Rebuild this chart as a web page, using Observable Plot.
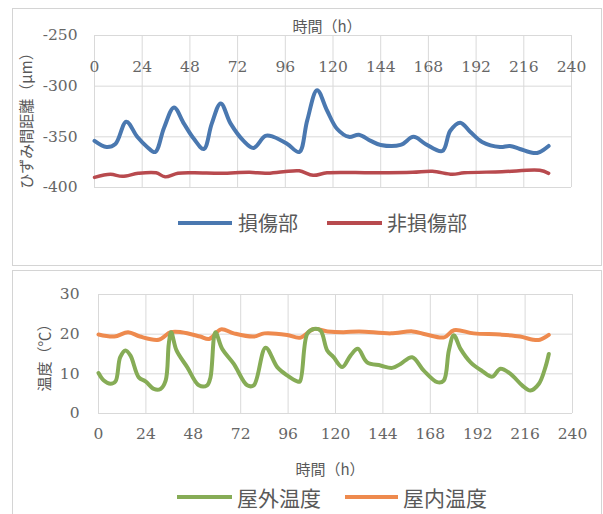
<!DOCTYPE html>
<html><head><meta charset="utf-8">
<script src="https://cdn.jsdelivr.net/npm/d3@7"></script>
<script src="https://cdn.jsdelivr.net/npm/@observablehq/plot@0.6"></script>
<style>
html,body{margin:0;padding:0;background:#fff;}
#wrap{position:relative;width:603px;height:514px;overflow:hidden;background:#fff;}
.panel{position:absolute;border:1.5px solid #d4d4d4;box-sizing:border-box;}
.abs{position:absolute;white-space:nowrap;color:#595959;font-family:"Noto Sans CJK JP","Noto Sans",sans-serif;line-height:1;}
.c{transform:translate(-50%,-50%);}
.r{transform:translate(-50%,-50%) rotate(-90deg);}
.leg{position:absolute;height:4px;}
.plot{position:absolute;left:0;}
</style></head>
<body><div id="wrap"></div>
<script>
// ---- data ----
const xTicks = [0, 24, 48, 72, 96, 120, 144, 168, 192, 216, 240];
const strainTicks = [-400, -350, -300, -250];
const tempTicks = [0, 10, 20, 30];

const damagedH = [0, 6, 10.5, 16, 21.5, 26.5, 30.5, 35, 40, 45, 50, 55, 59, 63.5, 68.5, 75, 80, 86, 90, 97, 103, 107, 112, 117, 122, 128, 133, 139, 144, 154, 160.5, 166.5, 175, 179, 184, 189, 195, 204, 209, 214, 221, 224, 228.5];
const damagedV = [-354, -360, -357, -335, -350, -360, -365, -341, -321, -337, -352, -362, -337, -317, -337, -354, -361, -349, -350, -357, -365, -334, -304, -324, -342, -350, -348, -354, -358, -358, -350, -357, -364, -344, -336, -345, -355, -360, -359, -362, -366, -365, -359];

const intactH = [0, 8, 14, 22, 31, 35.5, 42, 50, 64, 78, 86, 95, 103, 110, 117, 140, 160, 170, 180, 186, 205, 224, 228.5];
const intactV = [-390, -387, -389, -386, -385.5, -389.5, -386, -385.5, -386, -385, -386, -384.5, -383.5, -388, -385.5, -385.5, -385, -384, -387, -385.5, -384.5, -383, -386];

const outdoorH = [0, 2.7, 6, 8.6, 11, 13.7, 16.2, 20.4, 23.8, 28, 31.4, 34, 35.6, 36.8, 39.5, 44.9, 50.8, 55, 56.7, 59.2, 62.6, 68.5, 75.3, 78.6, 84.6, 90.5, 95.5, 100.6, 102, 105.7, 109, 112.4, 115.8, 119, 123.4, 127.6, 131.3, 136, 142.8, 148.7, 152.9, 158.8, 164.7, 171.5, 174.8, 177.4, 179.9, 183.3, 188.4, 194.3, 199.4, 203.5, 208.6, 214.5, 218.7, 223, 226.3, 228];
const outdoorV = [10.2, 8.3, 7.5, 8.1, 14.2, 15.9, 14.6, 9.1, 8.1, 6.2, 6.2, 8.3, 17.6, 20.5, 15.9, 11.7, 7.1, 7.1, 9.1, 20.5, 16.3, 12.5, 7.1, 7.1, 16.6, 11.7, 9.6, 8.1, 8.1, 20.1, 21.3, 20.9, 15.9, 14.2, 11.7, 14.6, 16.3, 12.9, 12.1, 11.5, 12.5, 14.2, 10.8, 7.9, 8.3, 15.9, 19.7, 16.3, 12.9, 10.7, 9.3, 11.3, 10, 7.1, 5.8, 7.5, 11.7, 15];

const indoorH = [0, 8, 15, 21, 30.5, 36.5, 42, 51.5, 56, 62, 68.5, 78.5, 84, 95.5, 102, 109, 116, 124, 132, 148, 159, 166, 175, 180, 190, 203.5, 213.5, 220, 223.5, 228];
const indoorV = [19.9, 19.4, 20.5, 19.4, 18.6, 20.5, 20.5, 19.4, 18.8, 21.2, 20.2, 19.4, 20.2, 19.8, 19.1, 21.3, 20.7, 20.5, 20.7, 20.2, 20.7, 19.9, 19.2, 21, 20.2, 19.9, 19.4, 18.6, 18.6, 19.8];

const labels = {
  time: "時間（h）",
  strain: "ひずみ間距離（μm）",
  temp: "温度（℃）",
  damaged: "損傷部", intact: "非損傷部",
  outdoor: "屋外温度", indoor: "屋内温度"
};
const colors = {damaged: "#4a78b0", intact: "#b84a4e", outdoor: "#86ac56", indoor: "#ee8a4e"};

const zip = (H, V) => H.map((h, i) => ({h, v: V[i]}));

const baseStyle = {fontFamily: "DejaVu Serif", fontSize: "15.5px", color: "#595959", background: "transparent", overflow: "visible"};
const gridStyle = {stroke: "#d9d9d9", strokeOpacity: 1, strokeWidth: 1};
const fmt = d => String(d);

// ---- top chart ----
const topChart = Plot.plot({
  width: 603, height: 260,
  marginLeft: 94, marginRight: 32, marginTop: 35, marginBottom: 73,
  style: baseStyle,
  x: {domain: [0, 240], axis: null},
  y: {domain: [-400, -250], axis: null},
  marks: [
    Plot.gridX(xTicks, gridStyle),
    Plot.gridY(strainTicks, gridStyle),
    Plot.axisY(strainTicks, {tickSize: 0, tickPadding: 17, label: null, fill: "#666", tickFormat: fmt}),
    Plot.text(xTicks, {x: d => d, frameAnchor: "top", dy: 25, text: fmt, fill: "#666"}),
    Plot.line(zip(intactH, intactV), {x: "h", y: "v", stroke: colors.intact, strokeWidth: 3.5, curve: "catmull-rom"}),
    Plot.line(zip(damagedH, damagedV), {x: "h", y: "v", stroke: colors.damaged, strokeWidth: 4, curve: "catmull-rom"})
  ]
});
topChart.classList.add("plot"); topChart.style.top = "0px";

// ---- bottom chart ----
const botChart = Plot.plot({
  width: 603, height: 230,
  marginLeft: 98, marginRight: 31, marginTop: 26, marginBottom: 85,
  style: baseStyle,
  x: {domain: [0, 240], axis: null},
  y: {domain: [0, 30], axis: null},
  marks: [
    Plot.gridX(xTicks, gridStyle),
    Plot.gridY(tempTicks, gridStyle),
    Plot.axisY(tempTicks, {tickSize: 0, tickPadding: 19, label: null, fill: "#666", tickFormat: fmt}),
    Plot.text(xTicks, {x: d => d, frameAnchor: "bottom", dy: 25, text: fmt, fill: "#666"}),
    Plot.line(zip(indoorH, indoorV), {x: "h", y: "v", stroke: colors.indoor, strokeWidth: 4, curve: "catmull-rom"}),
    Plot.line(zip(outdoorH, outdoorV), {x: "h", y: "v", stroke: colors.outdoor, strokeWidth: 4, curve: "catmull-rom"})
  ]
});
botChart.classList.add("plot"); botChart.style.top = "268px";

const wrap = document.getElementById("wrap");
function el(tag, cls, css, text) {
  const e = document.createElement(tag);
  e.className = cls; e.style.cssText = css;
  if (text != null) e.textContent = text;
  wrap.appendChild(e); return e;
}
el("div", "panel", "left:12px;top:8px;width:590px;height:258px;");
el("div", "panel", "left:12px;top:270px;width:590px;height:260px;");
wrap.appendChild(topChart);
wrap.appendChild(botChart);

// titles
el("div", "abs c", "left:327px;top:25px;font-size:15px;", labels.time);
el("div", "abs r", "left:25px;top:117px;font-size:15px;", labels.strain);
el("div", "abs c", "left:330px;top:468px;font-size:15px;", labels.time);
el("div", "abs r", "left:43px;top:354px;font-size:15px;", labels.temp);

// legends
el("div", "leg", `left:178px;top:221px;width:54px;background:${colors.damaged};`);
el("div", "abs", "left:238px;top:223px;font-size:20px;transform:translateY(-50%);", labels.damaged);
el("div", "leg", `left:327px;top:221px;width:55px;background:${colors.intact};`);
el("div", "abs", "left:387px;top:223px;font-size:20px;transform:translateY(-50%);", labels.intact);
el("div", "leg", `left:177px;top:495px;width:55px;background:${colors.outdoor};`);
el("div", "abs", "left:237px;top:497px;font-size:21px;transform:translateY(-50%);", labels.outdoor);
el("div", "leg", `left:345px;top:495px;width:53px;background:${colors.indoor};`);
el("div", "abs", "left:403px;top:497px;font-size:21px;transform:translateY(-50%);", labels.indoor);
</script></body></html>
